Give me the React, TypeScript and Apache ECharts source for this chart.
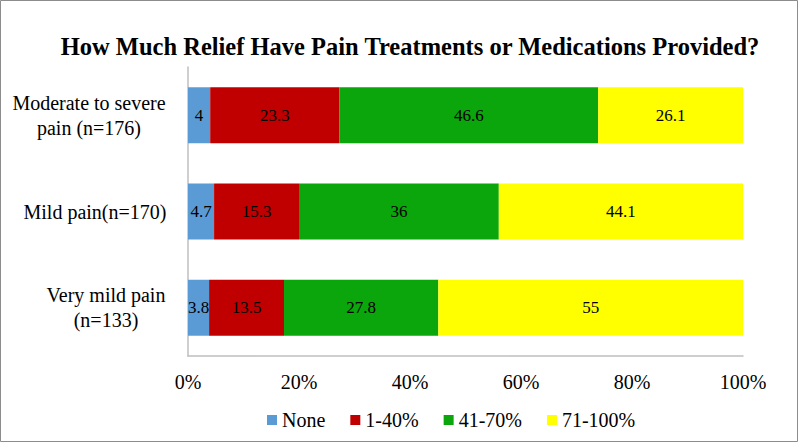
import React, { useEffect, useRef } from "react";
import * as echarts from "echarts";

const categories = [
  "Moderate to severe\npain (n=176)",
  "Mild pain(n=170)",
  "Very mild pain\n(n=133)",
];
const seriesNames = ["None", "1-40%", "41-70%", "71-100%"];
const noneValues = [4, 4.7, 3.8];
const low = [23.3, 15.3, 13.5];
const mid = [46.6, 36, 27.8];
const high = [26.1, 44.1, 55];
const colors = ["#5B9BD5", "#C00000", "#0BA60B", "#FFFF00"];

const FONT = "Liberation Serif";

export default function App() {
  const ref = useRef<HTMLDivElement>(null);
  useEffect(() => {
    document.body.style.margin = "0";
    const chart = echarts.init(ref.current!, null, { renderer: "svg" });
    const values = [noneValues, low, mid, high];
    const labelWidths = [162, 150, 128];
    const richStyle = (w: number) => ({
      width: w,
      align: "center",
      fontFamily: FONT,
      fontSize: 20,
      lineHeight: 25,
      color: "#000",
    });
    chart.setOption({
      animation: false,
      textStyle: { fontFamily: FONT },
      title: {
        text: "How Much Relief Have Pain Treatments or Medications Provided?",
        left: 405,
        textAlign: "center",
        top: 29,
        textStyle: { fontFamily: FONT, fontSize: 24.5, fontWeight: "bold", color: "#000" },
      },
      graphic: [
        {
          type: "rect",
          shape: { x: 0.5, y: 0.5, width: 797, height: 441 },
          style: { fill: "none", stroke: "#8c8c8c", lineWidth: 1 },
          silent: true,
        },
      ],
      legend: {
        left: 262,
        top: 405,
        itemWidth: 10,
        itemHeight: 10,
        itemGap: 25,
        icon: "rect",
        data: seriesNames,
        textStyle: { fontFamily: FONT, fontSize: 20, color: "#000" },
      },
      grid: { left: 188, right: 57, top: 67, bottom: 87 },
      xAxis: {
        type: "value",
        min: 0,
        max: 100,
        interval: 20,
        axisLine: { show: true, lineStyle: { color: "#BFBFBF", width: 1.5 } },
        axisTick: { show: false },
        splitLine: { show: false },
        axisLabel: {
          formatter: "{value}%",
          margin: 16,
          fontFamily: FONT,
          fontSize: 20,
          color: "#000",
        },
      },
      yAxis: {
        type: "category",
        inverse: true,
        data: categories,
        axisLine: { show: true, lineStyle: { color: "#BFBFBF", width: 1.5 } },
        axisTick: { show: false },
        axisLabel: {
          margin: 18,
          align: "right",
          fontFamily: FONT,
          fontSize: 20,
          color: "#000",
          lineHeight: 25,
          formatter: (v: string) => {
            const key = categories.indexOf(v);
            return v
              .split("\n")
              .map((line) => `{c${key}|${line}}`)
              .join("\n");
          },
          rich: {
            c0: richStyle(labelWidths[0]),
            c1: richStyle(labelWidths[1]),
            c2: richStyle(labelWidths[2]),
          },
        },
      },
      series: seriesNames.map((name, i) => ({
        name,
        type: "bar",
        stack: "total",
        barWidth: 56,
        data: values[i],
        itemStyle: { color: colors[i] },
        label: {
          show: true,
          position: "inside",
          formatter: "{c}",
          fontFamily: FONT,
          fontSize: 17,
          color: "#000",
        },
      })),
    });
    return () => chart.dispose();
  }, []);
  return <div ref={ref} style={{ width: 800, height: 443 }} />;
}
